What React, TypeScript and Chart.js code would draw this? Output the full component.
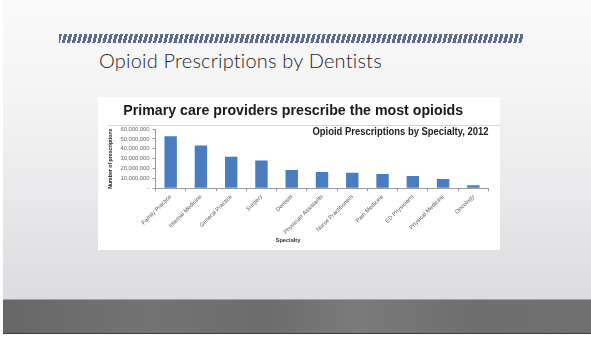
import React, { useEffect, useRef } from "react";
import { Chart, registerables } from "chart.js";

Chart.register(...registerables);

const categories = [
  "Family Practice",
  "Internal Medicine",
  "General Practice",
  "Surgery",
  "Dentists",
  "Physician Assistants",
  "Nurse Practitioners",
  "Pain Medicine",
  "ED Physicians",
  "Physical Medicine",
  "Oncology",
];
const prescriptions = [
  52600000, 43300000, 32000000, 28100000, 18600000, 16500000, 15800000,
  14400000, 12400000, 9300000, 3100000,
];
const yTickMax = 60000000;
const yTickStep = 10000000;

const slideTitle = "Opioid Prescriptions by Dentists";
const chartTitle = "Primary care providers prescribe the most opioids";
const chartSubtitle = "Opioid Prescriptions by Specialty, 2012";
const xAxisTitle = "Specialty";
const yAxisTitle = "Number of prescriptions";

const decorPlugin = {
  id: "decor",
  afterDraw(chart: any) {
    const ctx = chart.ctx;
    const area = chart.chartArea;
    ctx.save();
    ctx.strokeStyle = "#d6d6d6";
    ctx.lineWidth = 1;
    ctx.beginPath();
    ctx.moveTo(10, 28.5);
    ctx.lineTo(chart.width, 28.5);
    ctx.stroke();

    ctx.fillStyle = "#1e1e1e";
    ctx.font = "bold 10px 'Liberation Sans', Arial, sans-serif";
    ctx.textAlign = "right";
    ctx.textBaseline = "alphabetic";
    ctx.fillText(chartSubtitle, area.right, 38, 176);

    ctx.font = "bold 5.6px 'Liberation Sans', Arial, sans-serif";
    ctx.textAlign = "center";
    ctx.textBaseline = "middle";
    ctx.fillStyle = "#333";
    ctx.fillText(xAxisTitle, 190, 143);
    ctx.restore();
  },
};

function ChartBox() {
  const ref = useRef<HTMLCanvasElement>(null);
  useEffect(() => {
    if (!ref.current) return;
    const chart = new Chart(ref.current, {
      type: "bar",
      data: {
        labels: categories,
        datasets: [
          {
            data: prescriptions,
            backgroundColor: "#4a7dc0",
            borderWidth: 0,
            barPercentage: 0.41,
            categoryPercentage: 1,
          },
        ],
      },
      options: {
        animation: false,
        responsive: false,
        maintainAspectRatio: false,
        layout: { padding: { left: 0, right: 11.5, top: 0, bottom: 0 } },
        plugins: {
          legend: { display: false },
          tooltip: { enabled: false },
          title: {
            display: true,
            text: chartTitle,
            color: "#1a1a1a",
            font: { family: "'Liberation Sans', Arial, sans-serif", size: 14.2, weight: "bold" },
            padding: { top: 6, bottom: 9 },
          },
        },
        scales: {
          x: {
            afterFit: (s: any) => {
              s.height = 61.7;
            },
            grid: { drawOnChartArea: false, tickLength: 3, color: "#9a9a9a", offset: true },
            border: { color: "#9a9a9a" },
            ticks: {
              minRotation: 45,
              maxRotation: 45,
              autoSkip: false,
              padding: 2,
              color: "#5e5e5e",
              font: { family: "'Liberation Sans', Arial, sans-serif", size: 5.8 },
            },
          },
          y: {
            min: 0,
            max: yTickMax,
            afterFit: (s: any) => {
              s.width = 57.5;
            },
            grid: { drawOnChartArea: false, tickLength: 3, color: "#9a9a9a" },
            border: { color: "#9a9a9a" },
            ticks: {
              stepSize: yTickStep,
              autoSkip: false,
              padding: 3,
              color: "#666",
              font: { family: "'Liberation Sans', Arial, sans-serif", size: 5.8 },
              callback: (v: any) => (Number(v) === 0 ? "-" : Number(v).toLocaleString("en-US")),
            },
            title: {
              display: true,
              text: yAxisTitle,
              color: "#222",
              font: { family: "'Liberation Sans', Arial, sans-serif", size: 5.2, weight: "bold" },
              padding: { top: 9, bottom: 0 },
            },
          },
        },
      },
      plugins: [decorPlugin],
    });
    return () => chart.destroy();
  }, []);
  return <canvas ref={ref} width={402} height={153} style={{ display: "block" }} />;
}

export default function App() {
  return (
    <div
      style={{
        position: "fixed",
        left: 0,
        top: 0,
        width: 591,
        height: 337,
        overflow: "hidden",
        background: "#ffffff",
      }}
    >
      <div
        style={{
          position: "absolute",
          left: 3,
          top: 0,
          width: 588,
          height: 300,
          background: "linear-gradient(to bottom, #fafafa 0%, #f4f4f5 30%, #e9e9eb 65%, #dcdce0 100%)",
        }}
      />
      <div
        style={{
          position: "absolute",
          left: 59,
          top: 34,
          width: 464,
          height: 9,
          background: "repeating-linear-gradient(105deg, #5c6b92 0px, #5c6b92 3px, rgba(255,255,255,0) 3px, rgba(255,255,255,0) 4.9px)",
        }}
      />
      <div
        style={{
          position: "absolute",
          left: 99,
          top: 50,
          lineHeight: "20px",
          fontSize: 20,
          fontWeight: 300,
          letterSpacing: "0.2px",
          fontFamily: "Lato, 'Open Sans', sans-serif",
          color: "#1e1e1e",
          whiteSpace: "nowrap",
        }}
      >
        {slideTitle}
      </div>
      <div
        style={{
          position: "absolute",
          left: 98,
          top: 97,
          width: 402,
          height: 153,
          background: "#ffffff",
        }}
      >
        <ChartBox />
      </div>
      <div
        style={{
          position: "absolute",
          left: 3,
          top: 299,
          width: 588,
          height: 35,
          background: "linear-gradient(to right, #676767 0%, #737373 25%, #6c6c6c 45%, #7a7a7a 60%, #6e6e6e 80%, #707070 100%)",
          borderTop: "1px solid #a3a3a3",
          borderBottom: "1px solid #3b3b3b",
          boxSizing: "border-box",
        }}
      />
    </div>
  );
}
